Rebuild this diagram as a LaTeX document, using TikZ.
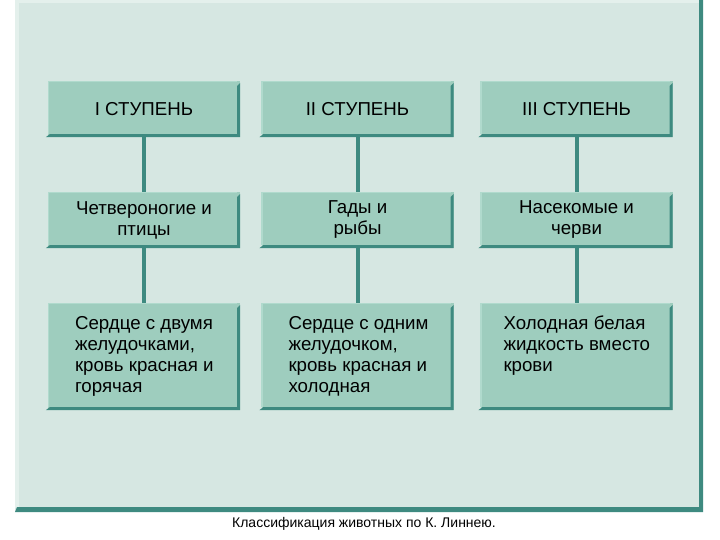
\documentclass[tikz,border=0pt]{standalone}
\usepackage{fontspec}
\setmainfont{Liberation Sans}
\usepackage{tikz}
\usetikzlibrary{positioning,calc}
\definecolor{panelbg}{RGB}{214,231,226}
\definecolor{panellight}{RGB}{228,240,236}
\definecolor{boxfill}{RGB}{158,205,190}
\definecolor{boxlight}{RGB}{176,218,205}
\definecolor{tealdark}{RGB}{62,138,128}

% bevel on the right and lower edge of a box
\newcommand{\bevel}[1]{%
  \fill[tealdark] ($(#1.north east)+(0,2)$) -- (#1.south east) -- ($(#1.south west)+(-2,0)$)
    -- ($(#1.south west)+(2,-3)$) -- ($(#1.south east)+(-3,-3)$) -- ($(#1.north east)+(-3,5)$) -- cycle;
  \draw[boxlight, line width=1.2pt] ($(#1.south west)+(0.6,-3)$) -- ($(#1.north west)+(0.6,0.6)$) -- ($(#1.north east)+(-3,0.6)$);
}

\begin{document}
\begin{tikzpicture}[
    x=1pt, y=-1pt,
    every node/.style={font=\fontsize{18.7}{21}\selectfont, text=black},
    stage/.style={fill=boxfill, minimum width=192pt, minimum height=56pt, inner sep=0pt, align=center},
    group/.style={fill=boxfill, minimum width=192pt, minimum height=56pt, inner sep=0pt, align=center},
    trait/.style={fill=boxfill, minimum width=192pt, minimum height=107pt, inner sep=0pt},
    link/.style={tealdark, line width=4pt}
]
\useasboundingbox (0,0) rectangle (720,540);
\fill[white] (0,0) rectangle (720,540);

% panel
\fill[panelbg] (15,0) rectangle (703,512);
\fill[panellight] (15,0) rectangle (19,508);
\fill[panellight] (15,0) rectangle (699,3);
\fill[tealdark] (699,0) -- (703,0) -- (703,512) -- (15,512) -- (17,507) -- (699,507) -- cycle;

% top row
\node[stage] (s1) at (144,109) {I СТУПЕНЬ};
\node[stage] (s2) at (357.5,109) {II СТУПЕНЬ};
\node[stage] (s3) at (576.5,109) {III СТУПЕНЬ};

% middle row
\node[group] (g1) at (144,220) {Четвероногие и\\птицы};
\node[group] (g2) at (357.5,220) {Гады и\\рыбы};
\node[group] (g3) at (576.5,220) {Насекомые и\\черви};

% bottom row
\node[trait] (t1) at (144,356.5) {};
\node[trait] (t2) at (357.5,356.5) {};
\node[trait] (t3) at (576.5,356.5) {};

\node[anchor=north west, align=left, inner sep=0pt] (d1) at ($(t1.north west)+(27,13)$)
  {Сердце с двумя\\желудочками,\\кровь красная и\\горячая};
\node[anchor=north west, align=left, inner sep=0pt] (d2) at ($(t2.north west)+(27,13)$)
  {Сердце с одним\\желудочком,\\кровь красная и\\холодная};
\node[anchor=north west, align=left, inner sep=0pt] (d3) at ($(t3.north west)+(23,13)$)
  {Холодная белая\\жидкость вместо\\крови};

\foreach \n in {s1,s2,s3,g1,g2,g3,t1,t2,t3} {\bevel{\n}}

% connectors
\foreach \c in {1,2,3} {
  \draw[link] (s\c.south) -- (g\c.north);
  \draw[link] (g\c.south) -- (t\c.north);
}

% caption
\node[font=\fontsize{14}{16}\selectfont, inner sep=0pt] (cap) at (364,524) {Классификация животных по К. Линнею.};
\end{tikzpicture}
\end{document}
